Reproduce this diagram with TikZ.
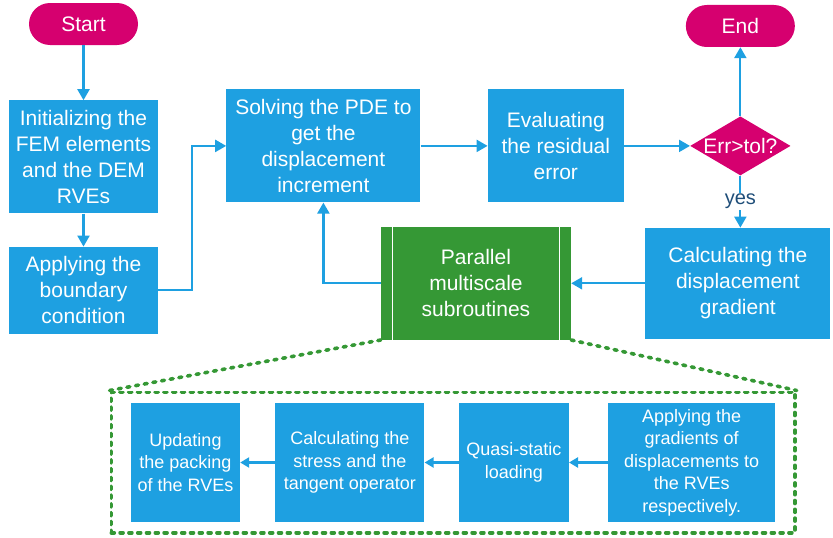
\documentclass[tikz,border=0pt]{standalone}
\usepackage{fontspec}
\setmainfont{Liberation Sans}
\usetikzlibrary{shapes.geometric, arrows.meta, positioning, fit}
\definecolor{flowblue}{RGB}{30,160,225}
\definecolor{flowpink}{RGB}{214,0,111}
\definecolor{flowgreen}{RGB}{53,152,53}
\definecolor{yesblue}{RGB}{31,78,121}
\tikzset{
    base/.style={align=center, text=white, inner sep=0pt, font=\fontsize{21}{26}\selectfont},
    process/.style={base, rectangle, fill=flowblue},
    terminal/.style={base, rectangle, rounded corners=21pt, minimum width=109pt, minimum height=42pt, fill=flowpink},
    decision/.style={base, diamond, aspect=1.7, fill=flowpink},
    parallel/.style={base, rectangle, fill=flowgreen, minimum width=190pt, minimum height=113pt},
    subtask/.style={process, font=\fontsize{18}{22.5}\selectfont, minimum height=119pt},
    arrow/.style={-{Triangle[length=11pt,width=12pt]}, line width=2.2pt, draw=flowblue},
    smallarrow/.style={arrow, -{Triangle[length=9pt,width=10pt]}},
    zoomline/.style={draw=flowgreen, line width=3.6pt, dash pattern=on 3pt off 5.8pt, line cap=round}
}

\begin{document}
\begin{tikzpicture}[node distance=33pt]
    \useasboundingbox (0,0) rectangle (833pt,-538pt);

    % main loop
    \node (start) [terminal] at (83.5pt,-24pt) {Start};
    \node (init) [process, minimum width=149pt, minimum height=113pt, below=55pt of start] {Initializing the\\FEM elements\\and the DEM\\RVEs};
    \node (apply) [process, minimum width=149pt, minimum height=87pt, below=of init] {Applying the\\boundary\\condition};
    \node (solve) [process, minimum width=194pt, minimum height=113pt, right=68pt of init, yshift=11pt] {Solving the PDE to\\get the\\displacement\\increment};
    \node (eval) [process, minimum width=136pt, minimum height=113pt, right=67pt of solve] {Evaluating\\the residual\\error};
    \node (check) [decision, right=66pt of eval] {Err>tol?};
    \node (end) [terminal, above=69pt of check] {End};
    \node (grad) [process, minimum width=185pt, minimum height=111pt, below=52pt of check, xshift=-2.5pt] {Calculating the\\displacement\\gradient};
    \node (multi) [parallel, left=74pt of grad] {Parallel\\multiscale\\subroutines};
    \draw [white, line width=1pt] ([xshift=12pt]multi.north west) -- ([xshift=12pt]multi.south west);
    \draw [white, line width=1pt] ([xshift=-12pt]multi.north east) -- ([xshift=-12pt]multi.south east);

    % subroutines
    \node (upd) [subtask, minimum width=109pt] at (185.5pt,-462.5pt) {Updating\\the packing\\of the RVEs};
    \node (stress) [subtask, minimum width=149pt, right=35pt of upd] {Calculating the\\stress and the\\tangent operator};
    \node (quasi) [subtask, minimum width=110pt, right=34pt of stress] {Quasi-static\\loading};
    \node (assign) [subtask, minimum width=167pt, right=39pt of quasi] {Applying the\\gradients of\\displacements to\\the RVEs\\respectively.};
    \node (frame) [zoomline, fit=(upd)(assign), inner xsep=19.5pt, inner ysep=10.5pt] {};
    \draw [zoomline] (multi.south west) -- (frame.north west);
    \draw [zoomline] (multi.south east) -- (frame.north east);

    \draw [arrow] (start) -- (init);
    \draw [arrow] (init) -- (apply);
    \draw [arrow] (apply.east) -- ++(34pt,0) |- (solve.west);
    \draw [arrow] (solve) -- (eval);
    \draw [arrow] (eval) -- (check);
    \draw [arrow] (check) -- (end);
    \draw [arrow] (check.south) -- node[fill=white, text=yesblue, font=\fontsize{20}{24}\selectfont, inner sep=1pt] {yes} (check.south |- grad.north);
    \draw [arrow] (grad) -- (multi);
    \draw [arrow] (multi.west) -| (solve.south);
    \draw [smallarrow] (assign) -- (quasi);
    \draw [smallarrow] (quasi) -- (stress);
    \draw [smallarrow] (stress) -- (upd);
\end{tikzpicture}
\end{document}
